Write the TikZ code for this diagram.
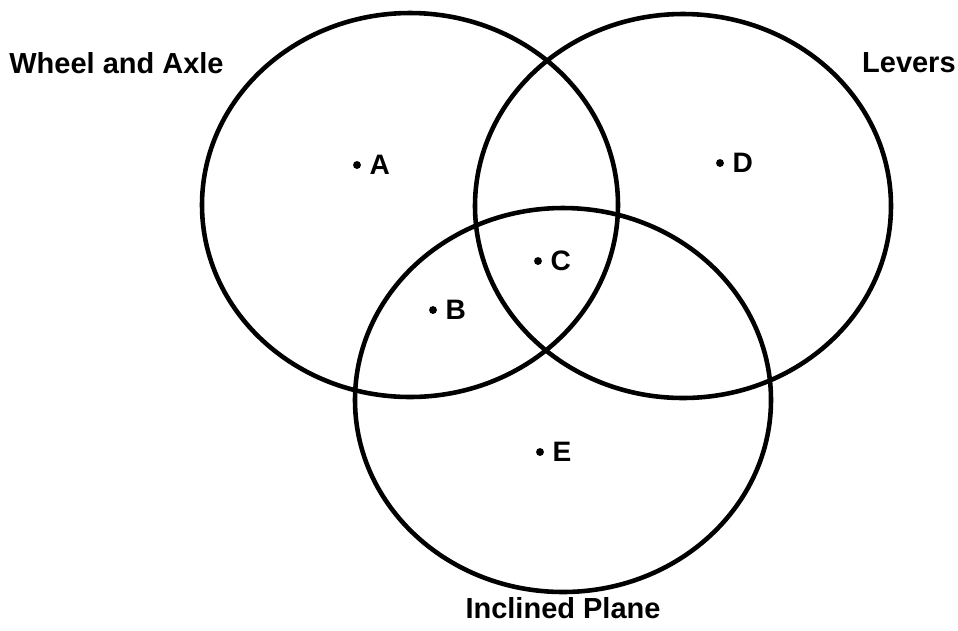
\documentclass[tikz,border=0pt]{standalone}
\usepackage{fontspec}
\setmainfont{Liberation Sans}
\usepackage{tikz}
\usetikzlibrary{positioning}

\begin{document}
\begin{tikzpicture}[x=0.02cm, y=-0.02cm,
  ring/.style={draw, line width=2.6pt, x radius=208, y radius=192},
  dot/.style={circle, fill, inner sep=0pt, minimum size=4.5pt},
  pname/.style={right=7pt, inner sep=0pt, font=\fontsize{16}{19}\selectfont\bfseries},
  title/.style={font=\fontsize{16.5}{19}\selectfont\bfseries, inner sep=0pt}
]
  \useasboundingbox (0,0) rectangle (958,630);

  % Circles
  \coordinate (wa) at (410,205);
  \coordinate (lv) at (683,206);
  \coordinate (ip) at (563,400);
  \draw[ring] (wa) ellipse [];
  \draw[ring] (lv) ellipse [];
  \draw[ring] (ip) ellipse [];

  % Titles
  \node[title, anchor=west] (twa) at (9,63)   {Wheel and Axle};
  \node[title, anchor=east] (tlv) at (956,63) {Levers};
  \node[title]              (tip) at (563,608) {Inclined Plane};

  % Points
  \node[dot] (A) at (357,165) {};
  \node[dot] (B) at (433,310) {};
  \node[dot] (C) at (538,261) {};
  \node[dot] (D) at (720,163) {};
  \node[dot] (E) at (540,452) {};
  \node[pname] at (A) {A};
  \node[pname] at (B) {B};
  \node[pname] at (C) {C};
  \node[pname] at (D) {D};
  \node[pname] at (E) {E};

\end{tikzpicture}
\end{document}
